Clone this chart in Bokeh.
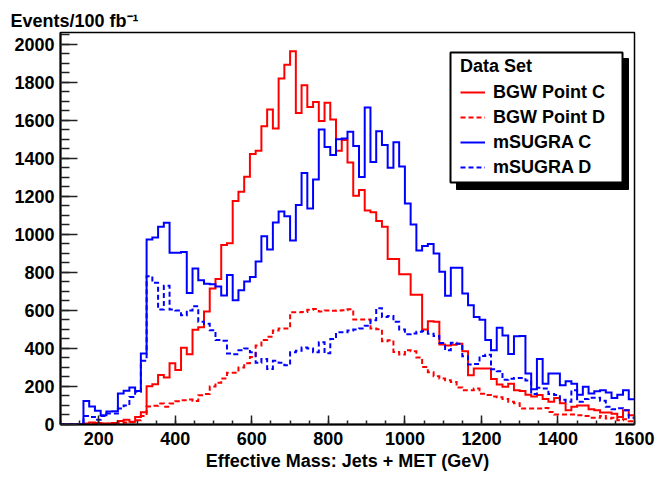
from bokeh.plotting import figure
from bokeh.models import (Range1d, SingleIntervalTicker, Legend, LegendItem,
                          BoxAnnotation, Title)
from bokeh.embed import file_html
from bokeh.resources import INLINE

# ---------------- data: 100 bins of 15 GeV from 100 to 1600 GeV ----------------
bin_start = 100
bin_width = 15

bgw_point_c = [
    0, 0, 0, 0, 5, 10, 8, 5, 5, 8,
    18, 25, 15, 40, 65, 201, 212, 260, 247, 322,
    287, 404, 369, 499, 512, 594, 716, 766, 944, 953,
    1176, 1224, 1303, 1423, 1440, 1569, 1657, 1557, 1820, 1893,
    1964, 1639, 1784, 1670, 1697, 1597, 1692, 1604, 1440, 1496,
    1378, 1203, 1233, 1126, 1117, 1070, 1040, 870, 870, 790,
    790, 683, 683, 500, 543, 540, 421, 416, 420, 425,
    385, 259, 294, 294, 294, 239, 210, 198, 215, 180,
    176, 157, 147, 155, 134, 120, 140, 112, 75, 94,
    100, 100, 80, 75, 63, 63, 57, 40, 75, 49,
]

bgw_point_d = [
    0, 0, 0, 0, 0, 3, 5, 4, 4, 5,
    8, 10, 12, 22, 45, 95, 98, 110, 94, 110,
    122, 128, 131, 124, 154, 160, 200, 220, 242, 272,
    272, 300, 322, 355, 415, 445, 462, 495, 505, 505,
    590, 590, 592, 603, 608, 595, 600, 598, 600, 601,
    606, 552, 552, 552, 505, 501, 438, 443, 382, 368,
    391, 385, 352, 303, 275, 254, 242, 233, 224, 194,
    180, 180, 189, 162, 155, 147, 143, 134, 120, 112,
    84, 84, 84, 84, 87, 66, 52, 52, 52, 52,
    49, 45, 35, 35, 45, 31, 35, 22, 27, 17,
]

msugra_c = [
    0, 0, 0, 0, 124, 95, 72, 48, 68, 70,
    163, 178, 195, 176, 373, 973, 984, 1040, 1061, 903,
    903, 908, 692, 820, 759, 741, 738, 726, 678, 787,
    654, 706, 752, 776, 857, 990, 921, 1063, 1121, 1096,
    968, 1155, 1323, 1136, 1289, 1552, 1460, 1418, 1500, 1504,
    1540, 1465, 1302, 1668, 1381, 1542, 1470, 1350, 1485, 1357,
    1162, 1052, 915, 939, 950, 899, 803, 677, 824, 824,
    689, 627, 566, 551, 445, 391, 509, 468, 371, 464,
    466, 268, 185, 345, 215, 268, 268, 206, 227, 215,
    157, 198, 163, 175, 180, 168, 140, 157, 180, 133,
]

msugra_d = [
    0, 0, 0, 0, 45, 40, 25, 45, 58, 58,
    84, 100, 145, 172, 335, 780, 745, 605, 730, 605,
    600, 575, 600, 622, 540, 530, 496, 444, 440, 374,
    370, 390, 400, 380, 325, 345, 292, 335, 325, 312,
    380, 388, 405, 400, 380, 433, 375, 450, 485, 485,
    495, 500, 505, 520, 548, 612, 566, 571, 540, 500,
    475, 479, 488, 492, 478, 465, 429, 391, 430, 425,
    359, 315, 318, 360, 367, 290, 280, 235, 241, 245,
    245, 232, 160, 193, 190, 160, 155, 130, 120, 180,
    120, 134, 141, 141, 125, 93, 80, 85, 75, 35,
]

x_ticks_interval = 200
y_ticks_interval = 200
series_names = ["BGW Point C", "BGW Point D", "mSUGRA C", "mSUGRA D"]

# ---------------- figure ----------------
X0, X1 = 100, 1600
Y0, Y1 = 0, 2062
W, H = 660, 481
BL, BR, BT, BB = 60, 26, 32, 57
FW, FH = W - BL - BR, H - BT - BB

FONT = "Liberation Sans"

p = figure(width=W, height=H, output_backend="svg", toolbar_location=None,
           x_range=Range1d(X0, X1), y_range=Range1d(Y0, Y1),
           min_border_left=BL, min_border_right=BR,
           min_border_top=BT, min_border_bottom=BB)
p.background_fill_color = "white"
p.border_fill_color = "white"
p.xgrid.visible = False
p.ygrid.visible = False
p.outline_line_color = "black"
p.outline_line_width = 1.5

# y-axis title drawn at the top-left, as in the original
p.title = Title(text="Events/100 fb\u207b\u00b9", align="left", offset=-50,
                standoff=4, text_font=FONT, text_font_style="bold",
                text_font_size="18px", text_color="black")

edges = [bin_start + bin_width * i for i in range(len(bgw_point_c) + 1)]


def steps(vals):
    return edges, list(vals) + [vals[-1]]


styles = [("red", "solid"), ("red", "5 3"), ("blue", "solid"), ("blue", "5 3")]
renderers = []
for vals, (col, dash) in zip([bgw_point_c, bgw_point_d, msugra_c, msugra_d], styles):
    xs, ys = steps(vals)
    r = p.step(xs, ys, mode="after", line_color=col, line_width=2,
               line_dash=dash, line_join="miter")
    renderers.append(r)

# axes
for ax in (p.xaxis[0], p.yaxis[0]):
    ax.axis_line_color = "black"
    ax.axis_line_width = 2
    ax.major_tick_line_color = "#222222"
    ax.minor_tick_line_color = "#222222"
    ax.major_tick_line_width = 1.5
    ax.minor_tick_line_width = 1.5
    ax.major_tick_out = 0
    ax.minor_tick_out = 0
    ax.major_label_text_font = FONT
    ax.major_label_text_font_style = "bold"
    ax.major_label_text_font_size = "18px"
    ax.major_label_text_color = "black"

p.xaxis.ticker = SingleIntervalTicker(interval=x_ticks_interval, num_minor_ticks=4)
p.yaxis.ticker = SingleIntervalTicker(interval=y_ticks_interval, num_minor_ticks=4)
p.xaxis.major_tick_in = 9
p.xaxis.minor_tick_in = 4
p.yaxis.major_tick_in = 17
p.yaxis.minor_tick_in = 9
p.xaxis.major_label_standoff = 7
p.yaxis.major_label_standoff = 6

p.xaxis.axis_label = "Effective Mass: Jets + MET (GeV)"
p.xaxis.axis_label_text_font = FONT
p.xaxis.axis_label_text_font_style = "bold"
p.xaxis.axis_label_text_font_size = "18px"
p.xaxis.axis_label_text_color = "black"
p.xaxis.axis_label_standoff = 3


# legend box with shadow (positions in pixels of the frame -> data)
def px_x(px):
    return X0 + px * (X1 - X0) / FW


def px_y(py):
    return Y1 - py * (Y1 - Y0) / FH


shadow = BoxAnnotation(left=px_x(396), right=px_x(568), top=px_y(26), bottom=px_y(157),
                       fill_color="black", fill_alpha=1.0, line_color="black",
                       line_alpha=1.0)
box = BoxAnnotation(left=px_x(390), right=px_x(562), top=px_y(20), bottom=px_y(150),
                    fill_color="white", fill_alpha=1.0, line_color="black",
                    line_width=2, line_alpha=1.0)
p.add_layout(shadow)
p.add_layout(box)

legend = Legend(items=[LegendItem(label=n, renderers=[r]) for n, r in zip(series_names, renderers)],
                title="Data Set", location=(400, 246), orientation="vertical",
                padding=0, margin=0, spacing=3, label_height=22, glyph_height=22,
                glyph_width=25, label_standoff=8, title_standoff=4,
                border_line_alpha=0, background_fill_alpha=0,
                label_text_font=FONT, label_text_font_style="bold",
                label_text_font_size="18px", label_text_color="black",
                title_text_font=FONT, title_text_font_style="bold",
                title_text_font_size="18px", title_text_color="black")
p.add_layout(legend)

open("out.html", "w").write(file_html(p, INLINE))
